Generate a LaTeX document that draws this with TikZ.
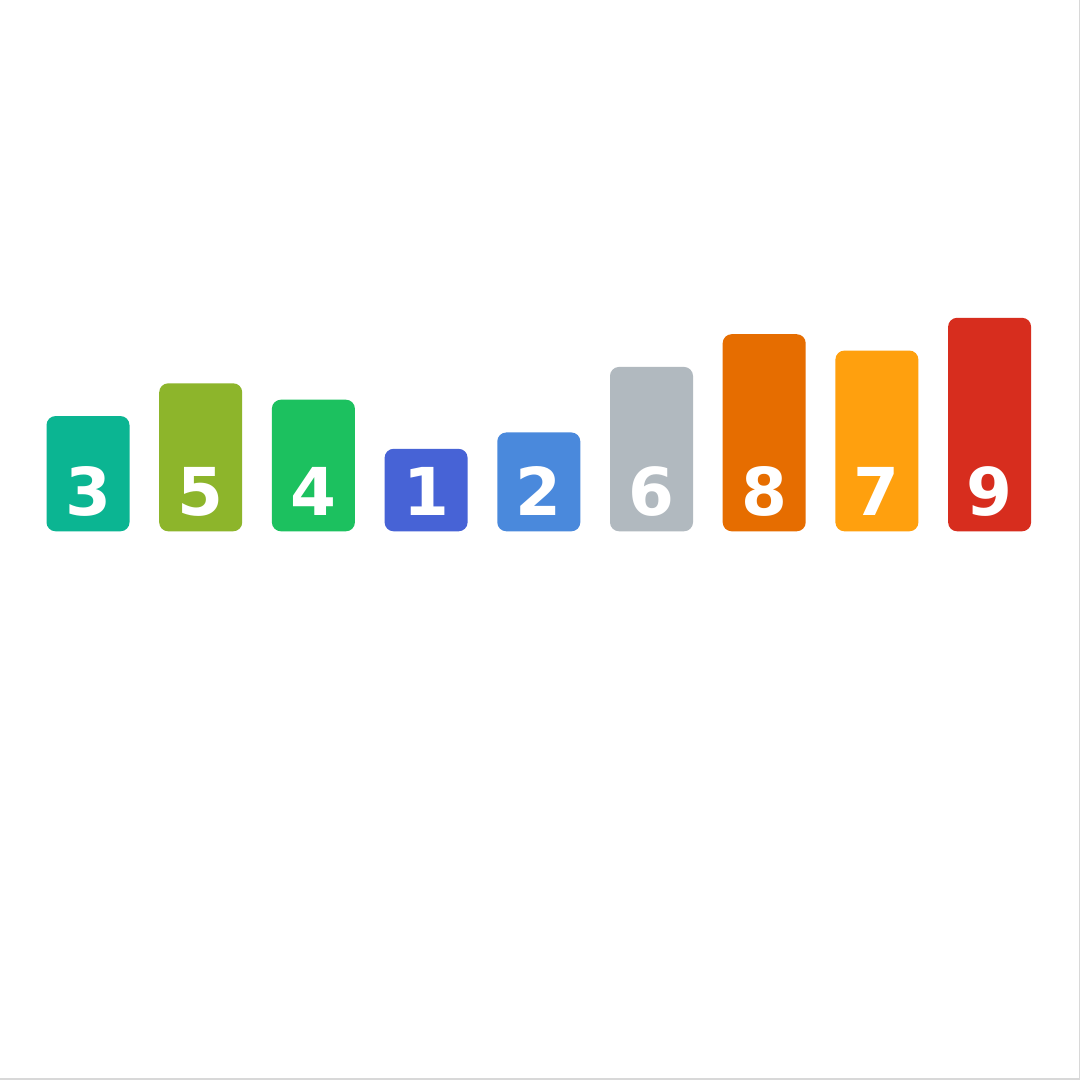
\documentclass[tikz,border=0pt]{standalone}
\usepackage{fontspec}
\setmainfont{DejaVu Sans}
\definecolor{c3}{HTML}{0BB592}
\definecolor{c5}{HTML}{8DB52B}
\definecolor{c4}{HTML}{1CC15F}
\definecolor{c1}{HTML}{4763D6}
\definecolor{c2}{HTML}{4A89DC}
\definecolor{c6}{HTML}{B1B9BF}
\definecolor{c8}{HTML}{E66D00}
\definecolor{c7}{HTML}{FFA00E}
\definecolor{c9}{HTML}{D72D1E}
\definecolor{edge}{HTML}{D8D8D8}
\begin{document}
\begin{tikzpicture}[x=1pt,y=1pt,
  bar/.style={rectangle, rounded corners=9pt, minimum width=83pt, inner sep=0pt, anchor=south, draw=none},
  num/.style={text=white, font=\fontsize{66}{66}\selectfont\bfseries, inner sep=0pt}]
\useasboundingbox (0,0) rectangle (1080,1080);
\fill[white] (0,0) rectangle (1080,1080);
\draw[edge, line width=1.5pt] (0,0.75) -- (1079.25,0.75) -- (1079.25,1080);
\foreach \n/\v [count=\i from 0] in {3/3,5/5,4/4,1/1,2/2,6/6,8/8,7/7,9/9}{
  \pgfmathsetmacro{\cx}{88+112.7*\i}
  \pgfmathsetmacro{\h}{66.1+16.375*\v}
  \node[bar, fill=c\n, minimum height=\h pt] (b\n) at (\cx,548.5) {};
  \node[num] (t\n) at ([yshift=40pt]b\n.south) {\n};
}
\end{tikzpicture}
\end{document}
